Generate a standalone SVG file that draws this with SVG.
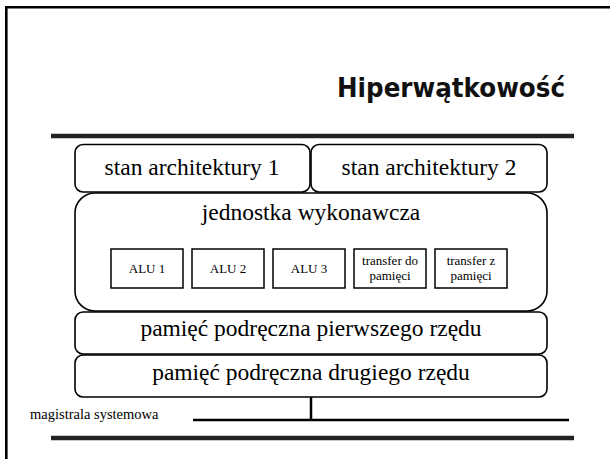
<svg xmlns="http://www.w3.org/2000/svg" width="610" height="459" viewBox="0 0 610 459">
<style>
.box{fill:#fff;stroke:#000;stroke-width:1.6}
.alu{fill:#fff;stroke:#000;stroke-width:1.5}
.t{font-family:"Liberation Serif","Times New Roman",serif;fill:#000;text-anchor:middle}
.big{font-size:23.5px}
.small{font-size:13px}
.tiny{font-size:13px}
.rule{stroke:#222;stroke-width:4.5}
.wire{stroke:#000;stroke-width:2.5;fill:none}
</style>
<rect width="610" height="459" fill="#fff"/>
<path d="M6.3,459 V7.2 H610" fill="none" stroke="#000" stroke-width="2.6"/>
<text x="565" y="97" font-family="DejaVu Sans, Verdana, sans-serif" font-weight="bold" font-size="27" text-anchor="end" textLength="228" lengthAdjust="spacingAndGlyphs" fill="#111">Hiperwątkowość</text>
<line class="rule" x1="51" y1="136" x2="574" y2="136"/>
<line class="rule" x1="51" y1="438" x2="574" y2="438"/>
<g id="connectors">
<line class="wire" x1="311" y1="397" x2="311" y2="420"/>
<line class="wire" x1="193" y1="420" x2="569" y2="420"/>
</g>
<g id="stan1"><rect class="box" x="75" y="144.5" width="235" height="47.5" rx="8"/><text class="t big" x="192" y="175">stan architektury 1</text></g>
<g id="stan2"><rect class="box" x="311" y="144.5" width="236" height="47.5" rx="8"/><text class="t big" x="429" y="175">stan architektury 2</text></g>
<g id="jednostka"><rect class="box" x="75" y="193" width="472" height="118" rx="20"/><text class="t big" x="311" y="220">jednostka wykonawcza</text></g>
<g id="alu1"><rect class="alu" x="111" y="249" width="72" height="39"/><text class="t small" x="147" y="273">ALU 1</text></g>
<g id="alu2"><rect class="alu" x="192" y="249" width="72" height="39"/><text class="t small" x="228" y="273">ALU 2</text></g>
<g id="alu3"><rect class="alu" x="273" y="249" width="72" height="39"/><text class="t small" x="309" y="273">ALU 3</text></g>
<g id="transfer-do"><rect class="alu" x="354" y="249" width="72" height="39"/><text class="t tiny" x="390" y="265">transfer do</text><text class="t tiny" x="390" y="280">pamięci</text></g>
<g id="transfer-z"><rect class="alu" x="435" y="249" width="72" height="39"/><text class="t tiny" x="471" y="265">transfer z</text><text class="t tiny" x="471" y="280">pamięci</text></g>
<g id="l1"><rect class="box" x="75" y="312" width="472" height="42" rx="8"/><text class="t big" x="311" y="336">pamięć podręczna pierwszego rzędu</text></g>
<g id="l2"><rect class="box" x="75" y="355" width="472" height="42" rx="8"/><text class="t big" x="311" y="380">pamięć podręczna drugiego rzędu</text></g>
<text x="30" y="419" font-family="Liberation Serif, Times New Roman, serif" font-size="14.5" fill="#000">magistrala systemowa</text>
</svg>
